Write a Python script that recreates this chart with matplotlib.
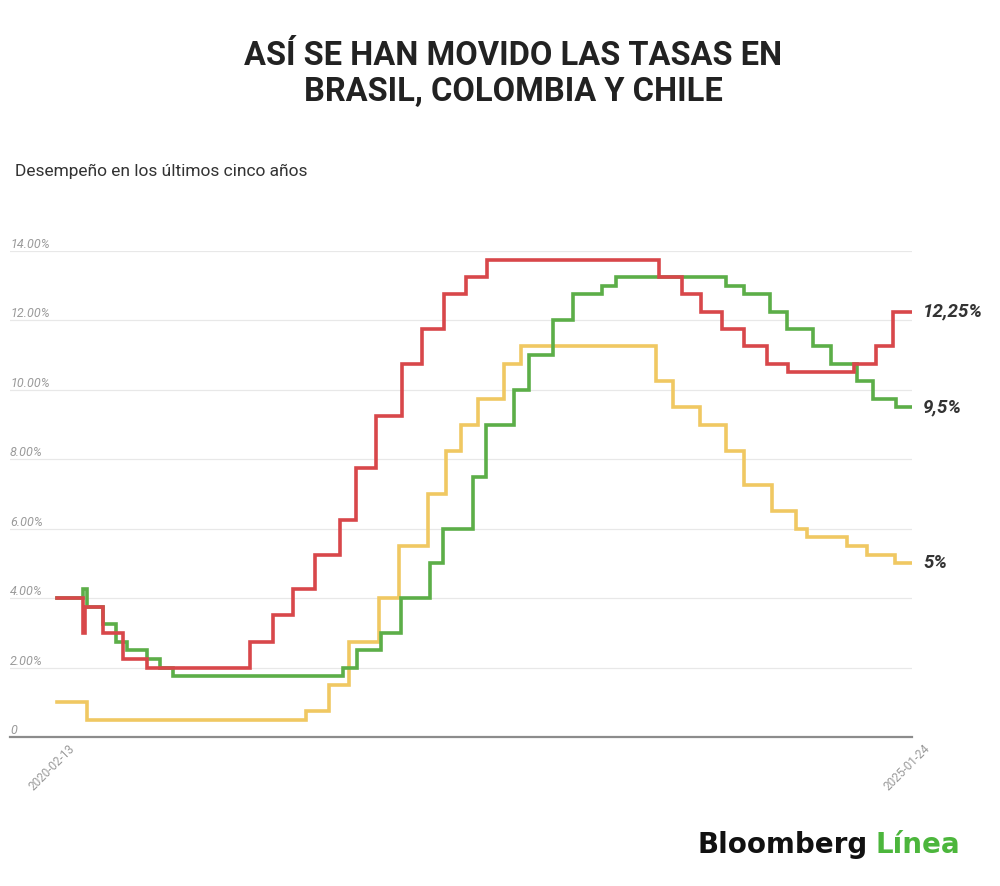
import pandas as pd
import matplotlib.pyplot as plt
import matplotlib.transforms as mtransforms

plt.rcParams['font.family'] = ['Roboto', 'DejaVu Sans']

# Datos (tasa de política monetaria, %)
brasil_fechas = ['2020-02-13', '2020-04-08', '2020-04-12', '2020-05-20', '2020-07-01', '2020-08-21',
                 '2021-03-27', '2021-05-14', '2021-06-26', '2021-08-11', '2021-10-03', '2021-11-06',
                 '2021-12-18', '2022-02-11', '2022-03-25', '2022-05-11', '2022-06-26', '2022-08-09',
                 '2023-08-08', '2023-09-25', '2023-11-06', '2023-12-19', '2024-02-05', '2024-03-23',
                 '2024-05-08', '2024-09-23', '2024-11-08', '2024-12-14', '2025-01-24']
brasil_tasas = [4.0, 3.0, 3.75, 3.0, 2.25, 2.0,
                2.75, 3.5, 4.25, 5.25, 6.25, 7.75,
                9.25, 10.75, 11.75, 12.75, 13.25, 13.75,
                13.25, 12.75, 12.25, 11.75, 11.25, 10.75,
                10.5, 10.75, 11.25, 12.25, 12.25]

colombia_fechas = ['2020-02-13', '2020-04-08', '2020-04-16', '2020-05-20', '2020-06-17', '2020-07-10',
                   '2020-08-21', '2020-09-18', '2020-10-15', '2021-10-09', '2021-11-08', '2021-12-30',
                   '2022-02-09', '2022-04-11', '2022-05-08', '2022-07-11', '2022-08-07', '2022-10-07',
                   '2022-11-06', '2022-12-27', '2023-02-07', '2023-04-09', '2023-05-09', '2023-12-27',
                   '2024-02-05', '2024-03-29', '2024-05-04', '2024-06-28', '2024-08-05', '2024-09-29',
                   '2024-11-02', '2024-12-22', '2025-01-24']
colombia_tasas = [4.0, 4.25, 3.75, 3.25, 2.75, 2.5,
                  2.25, 2.0, 1.75, 2.0, 2.5, 3.0,
                  4.0, 5.0, 6.0, 7.5, 9.0, 10.0,
                  11.0, 12.0, 12.75, 13.0, 13.25, 13.0,
                  12.75, 12.25, 11.75, 11.25, 10.75, 10.25,
                  9.75, 9.5, 9.5]

chile_fechas = ['2020-02-13', '2020-04-16', '2021-07-23', '2021-09-10', '2021-10-22', '2021-12-24',
                '2022-02-04', '2022-04-07', '2022-05-15', '2022-06-17', '2022-07-21', '2022-09-14',
                '2022-10-20', '2023-08-03', '2023-09-08', '2023-11-02', '2023-12-27', '2024-02-05',
                '2024-04-04', '2024-05-23', '2024-06-17', '2024-09-08', '2024-10-20', '2024-12-20',
                '2025-01-24']
chile_tasas = [1.0, 0.5, 0.75, 1.5, 2.75, 4.0,
               5.5, 7.0, 8.25, 9.0, 9.75, 10.75,
               11.25, 10.25, 9.5, 9.0, 8.25, 7.25,
               6.5, 6.0, 5.75, 5.5, 5.25, 5.0,
               5.0]

etiquetas_finales = ['12,25%', '9,5%', '5%']
yticks = [0, 2, 4, 6, 8, 10, 12, 14]
ytick_labels = ['0', '2.00%', '4.00%', '6.00%', '8.00%', '10.00%', '12.00%', '14.00%']

rojo = '#d8474a'
verde = '#5cae48'
amarillo = '#f0c862'

fig = plt.figure(figsize=(10, 8.86), dpi=100)
ax = fig.add_axes([0.010, 0.1682, 0.902, 0.5485])

series = [
    (chile_fechas, chile_tasas, amarillo, etiquetas_finales[2]),
    (colombia_fechas, colombia_tasas, verde, etiquetas_finales[1]),
    (brasil_fechas, brasil_tasas, rojo, etiquetas_finales[0]),
]
for fechas, tasas, color, etiqueta in series:
    f = pd.to_datetime(fechas)
    ax.plot(f, tasas, drawstyle='steps-post', color=color, lw=2.6, solid_joinstyle='miter')
    ax.annotate(etiqueta, xy=(f[-1], tasas[-1]), xytext=(8, 0), textcoords='offset points',
                va='center', ha='left', fontsize=13.5, fontweight='bold', fontstyle='italic',
                color='#333333', annotation_clip=False)

inicio = pd.Timestamp(brasil_fechas[0])
fin = pd.Timestamp(brasil_fechas[-1])
ax.set_xlim(inicio - pd.Timedelta(days=99), fin)
ax.set_ylim(0, 14)

# rejilla y ejes
for v in yticks[1:]:
    ax.axhline(v, color='#e8e8e8', lw=0.9, zorder=0)
for s in ['top', 'right', 'left']:
    ax.spines[s].set_visible(False)
ax.spines['bottom'].set_color('#8c8c8c')
ax.spines['bottom'].set_linewidth(1.6)

ax.set_yticks([])
trans = mtransforms.blended_transform_factory(ax.transAxes, ax.transData)
for v, lab in zip(yticks, ytick_labels):
    ax.text(0.0, v, lab, transform=trans, ha='left', va='bottom', fontsize=9,
            fontstyle='italic', color='#9a9a9a')

ax.set_xticks([inicio, fin])
ax.set_xticklabels([brasil_fechas[0], brasil_fechas[-1]], rotation=45, ha='right',
                   rotation_mode='anchor', fontsize=8.5, color='#9a9a9a')
ax.tick_params(axis='x', length=0, pad=4)
desplazar = mtransforms.ScaledTranslation(8 / 72, 0, fig.dpi_scale_trans)
for lab in ax.get_xticklabels():
    lab.set_transform(lab.get_transform() + desplazar)

fig.text(0.513, 0.9165, 'ASÍ SE HAN MOVIDO LAS TASAS EN\nBRASIL, COLOMBIA Y CHILE',
         ha='center', va='center', fontsize=23.5, fontweight='bold', color='#222222',
         linespacing=1.15)
fig.text(0.015, 0.806, 'Desempeño en los últimos cinco años', ha='left', va='center',
         fontsize=12.5, color='#333333')

logo = fig.text(0.697, 0.037, 'Bloomberg', ha='left', va='baseline', fontsize=20,
                fontweight='bold', color='#111111', family='DejaVu Sans')
fig.text(0.875, 0.037, 'Línea', ha='left', va='baseline', fontsize=20,
         fontweight='bold', color='#4cb63c', family='DejaVu Sans')

fig.savefig('out.png', dpi=100, facecolor='white')
